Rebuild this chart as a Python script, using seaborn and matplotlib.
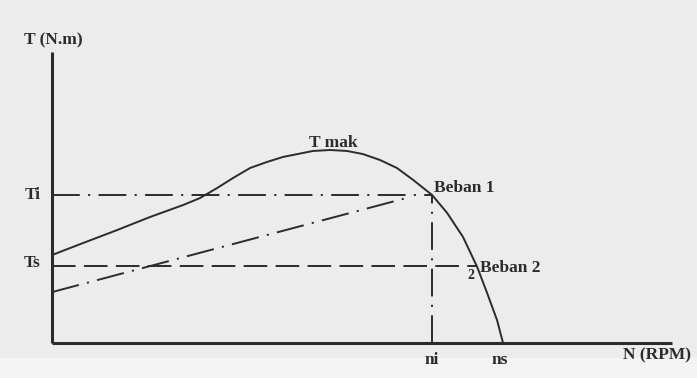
import matplotlib
matplotlib.use("Agg")
import matplotlib.pyplot as plt
import numpy as np
import pandas as pd
import seaborn as sns

# Torque-speed characteristic of an induction motor
speed_rpm = [0, 103, 216, 326, 436, 492, 549, 602, 659, 715, 768, 868, 925,
             981, 1034, 1091, 1147, 1201, 1264, 1314, 1367, 1414, 1447, 1480, 1500]
torque_nm = [45.6, 51.8, 58.5, 65.3, 71.5, 75.1, 80.3, 85.5, 90.7, 93.8, 96.4,
             99.5, 100.0, 99.5, 97.9, 94.8, 90.7, 84.5, 76.7, 67.4, 54.9, 39.4,
             25.9, 11.9, 0.0]

# Operating points and load lines
t_i = 76.7          # torque at load 1
t_s = 40.0          # torque at load 2
n_i = 1264          # speed at load 1
n_s = 1500          # synchronous speed
t_max_speed = 925   # speed of maximum torque
t_max = 100.0
load2_speed = 1414
rise_speed = [0, 1190]
rise_torque = [26.4, 75.6]

x_axis_end = 2062
y_axis_end = 150.8

sns.set_theme(style="white")
plt.rcParams["font.family"] = ["Liberation Serif", "DejaVu Serif"]
plt.rcParams["lines.scale_dashes"] = False

ink = "#2b2b2b"
bg = "#ececec"

fig = plt.figure(figsize=(6.97, 3.78), dpi=100, facecolor=bg)
ax = fig.add_axes([0, 0, 1, 1])
ax.set_facecolor(bg)
ax.set_xlim(-173, 2145)
ax.set_ylim(-18.1, 177.7)
ax.axis("off")

# lighter strip along the bottom edge
ax.axhspan(-18.1, -7.5, color="#f4f4f4", zorder=0, lw=0)

# axes drawn as plain lines
ax.plot([0, 0], [0, y_axis_end], color=ink, lw=2.2, solid_capstyle="butt")
ax.plot([0, x_axis_end], [0, 0], color=ink, lw=2.2, solid_capstyle="butt")

# torque curve
curve = pd.DataFrame({"N": speed_rpm, "T": torque_nm})
sns.lineplot(data=curve, x="N", y="T", sort=False, color=ink, lw=1.4, ax=ax)

# load 1 horizontal and vertical guides (dash-dot)
dashdot = (20, 6, 1.5, 6)
ax.plot([0, n_i], [t_i, t_i], color=ink, lw=1.4, dashes=dashdot)
ax.plot([n_i, n_i], [0, t_i], color=ink, lw=1.4, dashes=dashdot)
# load 2 horizontal guide (dashed)
ax.plot([0, load2_speed], [t_s, t_s], color=ink, lw=1.4, dashes=(17, 6))
# rising load line (dash-dot)
ax.plot(rise_speed, rise_torque, color=ink, lw=1.4, dashes=dashdot)

txt = dict(color=ink, fontweight="bold", fontsize=12.5)
ax.text(3, 157, "T (N.m)", ha="center", va="center", **txt)
ax.text(-65, t_i, "Ti", ha="center", va="center", **txt)
ax.text(-65, 41.5, "Ts", ha="center", va="center", **txt)
ax.text(t_max_speed + 10, t_max + 3.8, "T mak", ha="center", va="center", **txt)
ax.text(n_i + 6, 80.3, "Beban 1", ha="left", va="center", **txt)
ax.text(load2_speed + 8, 38.9, "Beban 2", ha="left", va="center", **txt)
ax.text(load2_speed - 20, 35, "2", ha="center", va="center",
        color=ink, fontweight="bold", fontsize=10)
ax.text(n_i, -8.8, "ni", ha="center", va="center", **txt)
ax.text(n_s - 10, -8.8, "ns", ha="center", va="center", **txt)
ax.text(2012, -6.2, "N (RPM)", ha="center", va="center", **txt)

fig.savefig("out.png", dpi=100, facecolor=bg)
